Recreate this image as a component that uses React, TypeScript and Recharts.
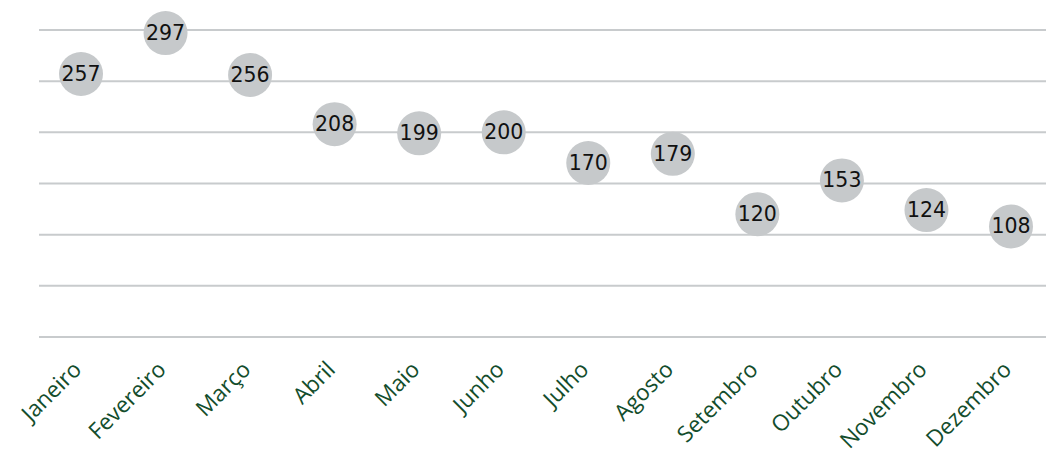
import React from "react";
import { LineChart, Line, XAxis, YAxis, CartesianGrid } from "recharts";

const months = [
  "Janeiro", "Fevereiro", "Março", "Abril", "Maio", "Junho",
  "Julho", "Agosto", "Setembro", "Outubro", "Novembro", "Dezembro",
];
const values = [257, 297, 256, 208, 199, 200, 170, 179, 120, 153, 124, 108];
const yTicks = [0, 50, 100, 150, 200, 250, 300];

const data = months.map((m, i) => ({ month: m, value: values[i] }));

const Bubble = (props: any) => {
  const { cx, cy, value } = props;
  if (cx == null || cy == null) return null;
  return (
    <g>
      <circle cx={cx} cy={cy} r={22} fill="#c6c9cb" />
      <text
        x={cx}
        y={cy}
        textAnchor="middle"
        dominantBaseline="central"
        fontFamily="DejaVu Sans"
        fontSize={20.5}
        fill="#111"
      >
        {value}
      </text>
    </g>
  );
};

const MonthTick = (props: any) => {
  const { x, y, payload } = props;
  return (
    <g transform={`translate(${x - 8},${y + 16})`}>
      <text
        x={0}
        y={0}
        dy={14}
        textAnchor="end"
        transform="rotate(-45)"
        fontFamily="Open Sans"
        fontSize={22.5}
        fill="#134d2c"
      >
        {payload.value}
      </text>
    </g>
  );
};

export default function App() {
  return (
    <div style={{ position: "absolute", left: 0, top: 0, width: 1046, height: 454 }}>
      <LineChart
        width={1046}
        height={454}
        data={data}
        margin={{ top: 30, right: 0, bottom: 0, left: 39 }}
      >
        <CartesianGrid
          vertical={false}
          horizontal={true}
          stroke="#c8cbcd"
          strokeWidth={2}
        />
        <XAxis
          dataKey="month"
          axisLine={false}
          tickLine={false}
          interval={0}
          height={117}
          padding={{ left: 42, right: 35 }}
          tick={<MonthTick />}
        />
        <YAxis
          type="number"
          domain={[0, 300]}
          ticks={yTicks}
          hide
        />
        <Line
          dataKey="value"
          stroke="none"
          isAnimationActive={false}
          dot={<Bubble />}
          activeDot={false}
        />
      </LineChart>
    </div>
  );
}
